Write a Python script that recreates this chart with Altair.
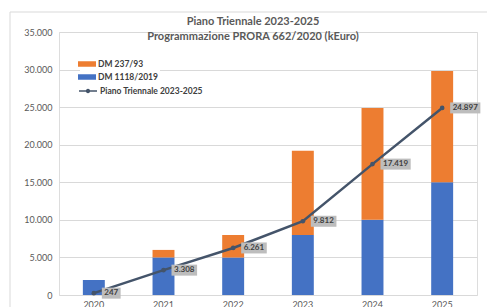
import altair as alt
import pandas as pd

years = ["2020", "2021", "2022", "2023", "2024", "2025"]
dm1118 = [2000, 5000, 5000, 8000, 10000, 15000]
dm237 = [0, 1000, 3000, 11200, 14900, 14800]
piano = [247, 3308, 6261, 9812, 17419, 24897]
piano_labels = ["247", "3.308", "6.261", "9.812", "17.419", "24.897"]
series_bar = ["DM 237/93", "DM 1118/2019"]
series_line = "Piano Triennale 2023-2025"
title_lines = ["Piano Triennale 2023-2025", "Programmazione PRORA 662/2020 (kEuro)"]
y_ticks = [0, 5000, 10000, 15000, 20000, 25000, 30000, 35000]

FONT = "Lato"
W, H = 418, 263

rows = []
for i, yr in enumerate(years):
    rows.append({"year": yr, "serie": "DM 1118/2019", "value": dm1118[i], "ord": 0})
    rows.append({"year": yr, "serie": "DM 237/93", "value": dm237[i], "ord": 1})
bars_df = pd.DataFrame(rows)


def box_path(label):
    # symbol size 100 -> 5 px per path unit
    tw = sum(2.2 if c == "." else 4.6 for c in label)
    w = tw + 5
    x0, x1, h = 8 / 5, (8 + w) / 5, 5.5 / 5
    return f"M{x0:.3f},{-h:.3f}L{x1:.3f},{-h:.3f}L{x1:.3f},{h:.3f}L{x0:.3f},{h:.3f}Z"


line_df = pd.DataFrame({
    "year": years,
    "value": piano,
    "label": piano_labels,
    "serie": [series_line] * len(years),
    "box": [box_path(l) for l in piano_labels],
})

x_scale = alt.Scale(paddingInner=0.685, paddingOuter=0.3425)
y_scale = alt.Scale(domain=[0, 35000], nice=False)
x_axis = alt.Axis(labelAngle=0, ticks=False, domain=False, labelFont=FONT,
                  labelFontSize=9, labelColor="#595959", labelPadding=5, grid=False)
y_axis = alt.Axis(values=y_ticks, tickCount=8, ticks=False, domain=False, labelOverlap=False,
                  labelExpr="replace(format(datum.value, ','), ',', '.')",
                  labelFont=FONT, labelFontSize=9, labelColor="#595959",
                  labelPadding=7, grid=True, gridColor="#D9D9D9")

x_enc = alt.X("year:N", sort=years, title=None, scale=x_scale, axis=x_axis)
y_bar = alt.Y("value:Q", title=None, stack="zero", scale=y_scale, axis=y_axis)
y_enc = alt.Y("value:Q", title=None, stack=None, scale=y_scale, axis=y_axis)

frame = alt.Chart(pd.DataFrame({"a": [0]})).mark_rect(
    fillOpacity=0, stroke="#D9D9D9", strokeWidth=1
).encode(x=alt.value(-49), x2=alt.value(480), y=alt.value(-20), y2=alt.value(320))

bars = alt.Chart(bars_df).mark_bar().encode(
    x=x_enc,
    y=y_bar,
    color=alt.Color("serie:N",
                    scale=alt.Scale(domain=series_bar, range=["#ED7D31", "#4472C4"]),
                    legend=alt.Legend(title=None, orient="none", legendX=21, legendY=25,
                                      symbolType="M-1.8,-0.55L1.8,-0.55L1.8,0.55L-1.8,0.55Z",
                                      symbolSize=100, symbolStrokeWidth=0,
                                      labelFont=FONT, labelFontSize=8.5, labelFontWeight="bold",
                                      labelColor="#404040", labelOffset=6, rowPadding=3,
                                      padding=2, fillColor="white")),
    order=alt.Order("ord:Q"),
)

line = alt.Chart(line_df).mark_line(strokeWidth=2.5).encode(
    x=x_enc,
    y=y_enc,
    stroke=alt.Stroke("serie:N", scale=alt.Scale(domain=[series_line], range=["#44546A"]),
                      legend=alt.Legend(title=None, orient="none", legendX=21, legendY=51,
                                        symbolType="M-1.8,0L1.8,0M-0.3,0A0.3,0.3 0 1,0 0.3,0A0.3,0.3 0 1,0 -0.3,0",
                                        symbolSize=100, symbolStrokeWidth=1.5,
                                        symbolFillColor="#44546A",
                                        labelFont=FONT, labelFontSize=8.5, labelFontWeight="bold",
                                        labelColor="#404040", labelOffset=6,
                                        padding=2, fillColor="white")),
)

points = alt.Chart(line_df).mark_point(filled=True, size=22, color="#44546A", opacity=1).encode(
    x=x_enc, y=y_enc
)

boxes = alt.Chart(line_df).mark_point(filled=True, size=100, color="#BDBDBD", opacity=1).encode(
    x=x_enc, y=y_enc, shape=alt.Shape("box:N", scale=None)
)

texts = alt.Chart(line_df).mark_text(align="left", baseline="middle", dx=10.5, font=FONT,
                                     fontSize=8, fontWeight="bold", color="#3F3F3F").encode(
    x=x_enc, y=y_enc, text="label:N"
)

chart = alt.layer(frame, bars, line, points, boxes, texts).properties(
    width=W, height=H,
    title=alt.TitleParams(title_lines, font=FONT, fontSize=11, fontWeight="bold",
                          color="#595959", anchor="middle", frame="group", dx=-15, dy=30,
                          lineHeight=15, offset=0),
    autosize=alt.AutoSizeParams(type="none"),
    padding={"left": 51, "top": 24, "right": 10, "bottom": 20},
).configure_view(stroke="#D9D9D9").configure(background="white")

chart.save("out.html", embed_options={"renderer": "svg", "actions": False})
